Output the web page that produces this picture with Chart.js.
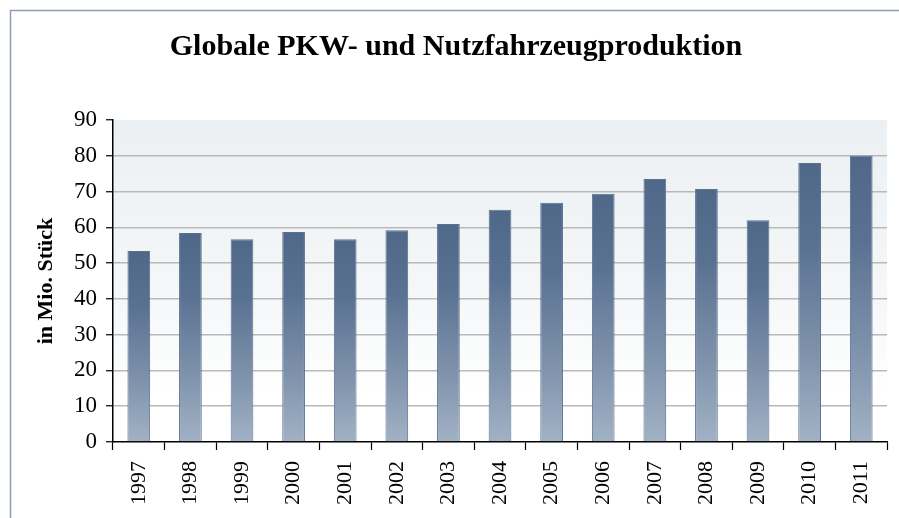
<!DOCTYPE html>
<html>
<head>
<meta charset="utf-8">
<script src="https://cdn.jsdelivr.net/npm/chart.js@4/dist/chart.umd.min.js"></script>
<style>
  html, body { margin: 0; padding: 0; background: #ffffff; }
  #wrap { position: relative; width: 899px; height: 518px; overflow: hidden; }
  canvas { display: block; }
</style>
</head>
<body>
<div id="wrap"><canvas id="c" width="899" height="518"></canvas></div>
<script>
const categories = ["1997","1998","1999","2000","2001","2002","2003","2004","2005","2006","2007","2008","2009","2010","2011"];
const production = [53.4, 58.4, 56.7, 58.7, 56.7, 59.2, 60.9, 64.9, 66.9, 69.4, 73.5, 70.7, 62.0, 78.0, 80.1];
const yTicks = [0, 10, 20, 30, 40, 50, 60, 70, 80, 90];
const titleText = "Globale PKW- und Nutzfahrzeugproduktion";
const yAxisTitle = "in Mio. Stück";

const frameAndBg = {
  id: 'frameAndBg',
  beforeDraw(chart) {
    const ctx = chart.ctx;
    const a = chart.chartArea;
    ctx.save();
    ctx.strokeStyle = '#8e9eb6';
    ctx.lineWidth = 1.5;
    ctx.beginPath();
    ctx.moveTo(10.5, chart.height + 2);
    ctx.lineTo(10.5, 10.5);
    ctx.lineTo(chart.width + 2, 10.5);
    ctx.stroke();
    const g = ctx.createLinearGradient(0, a.top, 0, a.bottom);
    g.addColorStop(0, '#ecf0f3');
    g.addColorStop(0.55, '#f5f7f8');
    g.addColorStop(0.85, '#ffffff');
    g.addColorStop(1, '#ffffff');
    ctx.fillStyle = g;
    ctx.fillRect(a.left, a.top, a.right - a.left, a.bottom - a.top);
    ctx.restore();
  }
};

function barGradient(context) {
  const chart = context.chart;
  const a = chart.chartArea;
  if (!a) return '#6f839e';
  const v = context.raw;
  const yScale = chart.scales.y;
  const top = yScale.getPixelForValue(v);
  const bottom = yScale.getPixelForValue(0);
  const g = chart.ctx.createLinearGradient(0, top, 0, bottom);
  g.addColorStop(0, '#4f6888');
  g.addColorStop(0.3, '#5a7292');
  g.addColorStop(0.7, '#8194ad');
  g.addColorStop(1, '#a2b2c5');
  return g;
}

new Chart(document.getElementById('c'), {
  type: 'bar',
  data: {
    labels: categories,
    datasets: [{
      data: production,
      backgroundColor: barGradient,
      borderColor: '#5a7191',
      borderWidth: 1,
      categoryPercentage: 1.0,
      barPercentage: 0.44
    }]
  },
  options: {
    responsive: false,
    animation: false,
    devicePixelRatio: 1,
    layout: { padding: { left: 24, right: 11, top: 0, bottom: 0 } },
    plugins: {
      legend: { display: false },
      tooltip: { enabled: false },
      title: {
        display: true,
        text: titleText,
        color: '#000000',
        font: { family: 'Liberation Serif', size: 30, weight: 'bold' },
        padding: { top: 29, bottom: 55 }
      }
    },
    scales: {
      x: {
        offset: true,
        grid: {
          offset: true,
          drawOnChartArea: false,
          drawTicks: true,
          tickLength: 8,
          tickColor: '#000000',
          tickWidth: 1.2
        },
        border: { color: '#000000', width: 1.5 },
        ticks: {
          color: '#000000',
          minRotation: 90,
          maxRotation: 90,
          padding: 11,
          font: { family: 'Liberation Serif', size: 22 }
        },
        afterFit(scale) { scale.height = 76; }
      },
      y: {
        min: 0,
        max: 90,
        afterBuildTicks(scale) { scale.ticks = yTicks.map(v => ({ value: v })); },
        grid: {
          color: (c) => (c.tick && (c.tick.value === 90 || c.tick.value === 0)) ? 'rgba(0,0,0,0)' : '#b9b9b9',
          lineWidth: 1.5,
          drawTicks: true,
          tickLength: 7,
          tickColor: '#000000',
          tickWidth: 1.2
        },
        border: { color: '#000000', width: 1.5 },
        ticks: {
          color: '#000000',
          padding: 9,
          font: { family: 'Liberation Serif', size: 23 }
        },
        title: {
          display: true,
          text: yAxisTitle,
          color: '#000000',
          font: { family: 'Liberation Serif', size: 22, weight: 'bold' },
          padding: { top: 9, bottom: 0 }
        },
        afterFit(scale) { scale.width = 89; }
      }
    }
  },
  plugins: [frameAndBg]
});
</script>
</body>
</html>
